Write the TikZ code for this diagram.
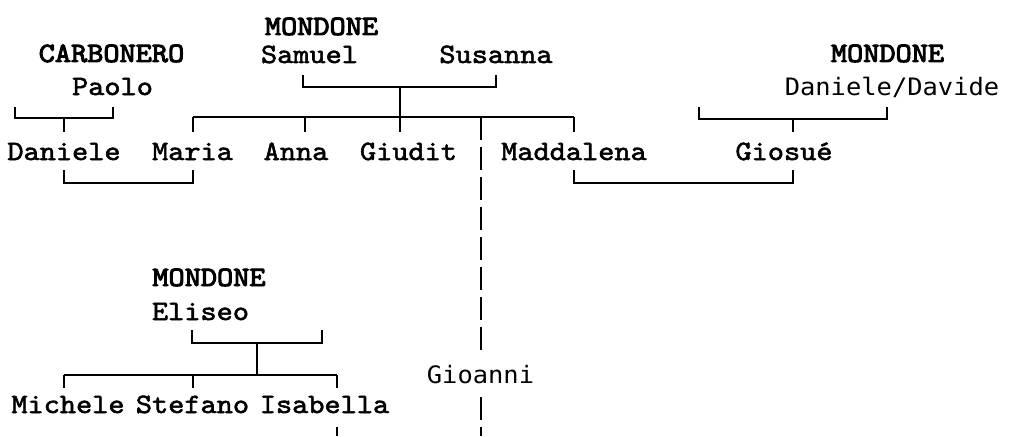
\documentclass[tikz,border=0pt]{standalone}
\usepackage{fontspec}
\usetikzlibrary{positioning}
\newfontfamily\persfont{lmmono10-regular.otf}[FakeStretch=1.1,FakeBold=2]
\newfontfamily\famfont{lmmono10-regular.otf}[FakeStretch=1.1,FakeBold=3.5]
\newfontfamily\nickfont{DejaVu Sans Mono}[FakeStretch=1.06]

\begin{document}
\begin{tikzpicture}[x=1pt, y=-1pt,
  pers/.style={inner sep=0pt, anchor=base, font=\persfont\fontsize{28}{30}\selectfont},
  fam/.style={pers, font=\famfont\fontsize{28}{30}\selectfont},
  nick/.style={pers, font=\nickfont\fontsize{24}{26}\selectfont},
  ln/.style={line width=2pt},
  desc/.style={ln, dash pattern=on 23pt off 7pt},
]
\useasboundingbox (0,0) rectangle (1019,436);

% first generation
\node[fam]  (samsur)  at (321.5,35) {MONDONE};
\node[pers] (samuel)  at (309.5,63) {Samuel};
\node[pers] (susanna) at (496,63)   {Susanna};
\node[fam]  (paosur)  at (111.5,62) {CARBONERO};
\node[pers] (paolo)   at (112.5,95) {Paolo};
\node[fam]  (davsur)  at (887.5,62) {MONDONE};
\node[nick] (davide)  at (892,95)   {Daniele/Davide};

% children row
\node[pers] (daniele)   at (64,160)    {Daniele};
\node[pers] (maria)     at (192.5,160) {Maria};
\node[pers] (anna)      at (296,160)   {Anna};
\node[pers] (giudit)    at (408.5,160) {Giudit};
\node[pers] (maddalena) at (574,160)   {Maddalena};
\node[pers] (giosue)    at (784,160)   {Giosué};

% lower branch
\node[fam]  (elisur)   at (209,286)   {MONDONE};
\node[pers] (eliseo)   at (200.5,320) {Eliseo};
\node[pers] (michele)  at (68,413)    {Michele};
\node[pers] (stefano)  at (192.5,413) {Stefano};
\node[pers] (isabella) at (324.5,413) {Isabella};
\node[nick] (gioanni)  at (480.5,383) {Gioanni};

% junctions and free ends
\coordinate (ssj)    at (400,87);
\coordinate (kids)   at (400,117);
\coordinate (paow)   at (15,107);
\coordinate (paj)    at (64,118);
\coordinate (davw)   at (699,107);
\coordinate (davj)   at (793,119);
\coordinate (eliw)   at (322,330);
\coordinate (elj)    at (257,343);
\coordinate (elkids) at (257,375);
\coordinate (gioend) at (481,436);
\coordinate (isaend) at (337,436);

% Samuel + Susanna and their children
\draw[ln] ([xshift=-6.5pt,yshift=-12pt]samuel.base) |- (ssj) -| ([yshift=-12pt]susanna.base);
\draw[ln] (ssj) -- ++(0,45);
\draw[ln] (maria.base |- kids) -- (maddalena.base |- kids);
\foreach \c/\dx in {maria/0,anna/9,maddalena/0}
  \draw[ln] ([xshift=\dx pt]\c.base |- kids) -- ++(0,15);

% line down to Gioanni
\draw[desc] (gioanni.base |- kids) -- ([yshift=10pt]gioanni.north);
\draw[desc] ([yshift=-14pt]gioanni.base) -- (gioanni.base |- gioend);

% Paolo
\draw[ln] (paow) |- (paj) -| ([yshift=-12pt]paolo.base);
\draw[ln] (paj) -- ++(0,14);
\draw[ln] ([yshift=-10pt]daniele.base) -- ++(0,13) -| ([yshift=-10pt]maria.base);

% Daniele/Davide
\draw[ln] (davw) |- (davj) -| ([xshift=-5pt,yshift=-12pt]davide.base);
\draw[ln] (davj) -- ++(0,13);
\draw[ln] ([yshift=-10pt]maddalena.base) -- ++(0,13) -| ([xshift=9pt,yshift=-10pt]giosue.base);

% Eliseo
\draw[ln] ([xshift=-8.5pt,yshift=-10pt]eliseo.base) |- (elj) -| (eliw);
\draw[ln] (elj) -- (elkids);
\draw[ln] ([xshift=-4pt]michele.base |- elkids) -- ([xshift=12.5pt]isabella.base |- elkids);
\foreach \c/\dx in {michele/-4,stefano/0,isabella/12.5}
  \draw[ln] ([xshift=\dx pt]\c.base |- elkids) -- ++(0,13);
\draw[ln] ([xshift=12.5pt,yshift=-14pt]isabella.base) -- (isaend);

\end{tikzpicture}
\end{document}
